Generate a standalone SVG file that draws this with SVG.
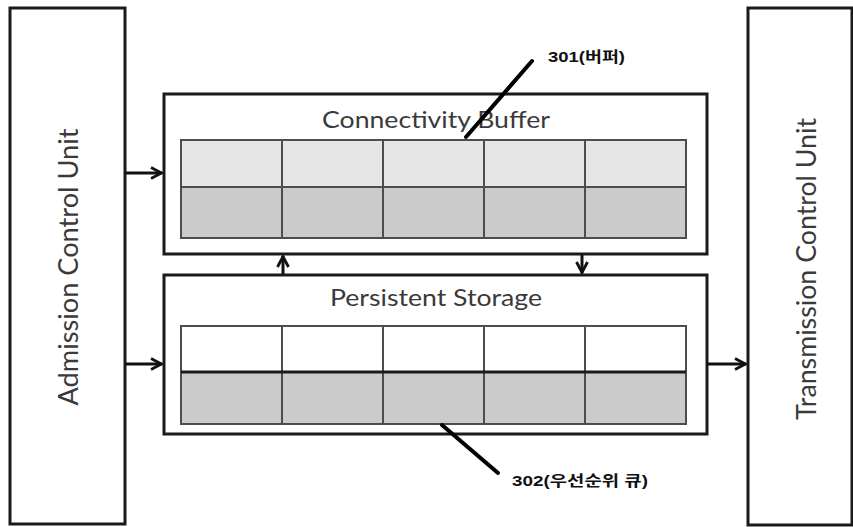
<svg xmlns="http://www.w3.org/2000/svg" width="853" height="527" viewBox="0 0 853 527">
  <style>
    .frame { fill: #ffffff; stroke: #1a1a1a; stroke-width: 3; }
    .unit-label { font-family: Lato, "Open Sans", "Liberation Sans", sans-serif; font-size: 27px; fill: #3a3a3a; text-anchor: middle; }
    .title { font-family: Lato, "Open Sans", "Liberation Sans", sans-serif; font-size: 24px; fill: #3a3a3a; text-anchor: middle; }
    .cell-light { fill: #e6e6e6; }
    .cell-dark { fill: #cbcbcb; }
    .cell-white { fill: #ffffff; }
    .grid { fill: none; stroke: #4d4d4d; stroke-width: 2; }
    .wire { stroke: #111111; stroke-width: 3; fill: none; }
    .leader { stroke: #000000; stroke-width: 4; stroke-linecap: round; }
    .ref { font-family: "Liberation Sans", "Noto Sans CJK KR", sans-serif; font-size: 15px; font-weight: bold; fill: #111111; }
  </style>
  <defs>
    <marker id="head" viewBox="0 0 14 14" refX="13" refY="7" markerWidth="14" markerHeight="14" markerUnits="userSpaceOnUse" orient="auto">
      <path d="M2,1.5 L12.5,7 L2,12.5" fill="none" stroke="#111111" stroke-width="2.8"/>
    </marker>
  </defs>

  <rect width="853" height="527" fill="#ffffff"/>

  <!-- Admission Control Unit -->
  <g id="admission">
    <rect class="frame" x="10" y="8" width="115" height="516"/>
    <text class="unit-label" transform="translate(78,267) rotate(-90)" textLength="277" lengthAdjust="spacingAndGlyphs">Admission Control Unit</text>
  </g>

  <!-- Transmission Control Unit -->
  <g id="transmission">
    <rect class="frame" x="748" y="8" width="104" height="517"/>
    <text class="unit-label" transform="translate(816,269) rotate(-90)" textLength="302" lengthAdjust="spacingAndGlyphs">Transmission Control Unit</text>
  </g>

  <!-- Connectivity Buffer -->
  <g id="buffer">
    <rect class="frame" x="164" y="94" width="543" height="160"/>
    <text class="title" x="436" y="128" textLength="228" lengthAdjust="spacingAndGlyphs">Connectivity Buffer</text>
    <rect class="cell-light" x="181" y="140" width="505" height="47"/>
    <rect class="cell-dark" x="181" y="187" width="505" height="51"/>
    <rect class="grid" x="181" y="140" width="505" height="98"/>
    <path class="grid" d="M181,187 H686 M282,140 V238 M383,140 V238 M484,140 V238 M585,140 V238"/>
  </g>

  <!-- Persistent Storage -->
  <g id="storage">
    <rect class="frame" x="164" y="275" width="543" height="159"/>
    <text class="title" x="436" y="306" textLength="212" lengthAdjust="spacingAndGlyphs">Persistent Storage</text>
    <rect class="cell-white" x="181" y="326" width="505" height="46"/>
    <rect class="cell-dark" x="181" y="372" width="505" height="52"/>
    <rect class="grid" x="181" y="326" width="505" height="98"/>
    <path class="grid" d="M282,326 V424 M383,326 V424 M484,326 V424 M585,326 V424"/>
    <path d="M181,372 H686" stroke="#1a1a1a" stroke-width="3"/>
  </g>

  <!-- Connectors -->
  <g id="connectors">
    <line class="wire" x1="125" y1="173" x2="162" y2="173" marker-end="url(#head)"/>
    <line class="wire" x1="125" y1="364" x2="162" y2="364" marker-end="url(#head)"/>
    <line class="wire" x1="707" y1="364" x2="746" y2="364" marker-end="url(#head)"/>
    <line class="wire" x1="283" y1="274" x2="283" y2="256" marker-end="url(#head)"/>
    <line class="wire" x1="582" y1="255" x2="582" y2="273" marker-end="url(#head)"/>
  </g>

  <!-- Reference callouts -->
  <g id="callout-301">
    <line class="leader" x1="532" y1="61" x2="466" y2="137"/>
    <text class="ref" x="548" y="62" textLength="77" lengthAdjust="spacingAndGlyphs">301(버퍼)</text>
  </g>
  <g id="callout-302">
    <line class="leader" x1="442" y1="425" x2="498" y2="473"/>
    <text class="ref" x="512" y="486" textLength="136" lengthAdjust="spacingAndGlyphs">302(우선순위 큐)</text>
  </g>
</svg>
